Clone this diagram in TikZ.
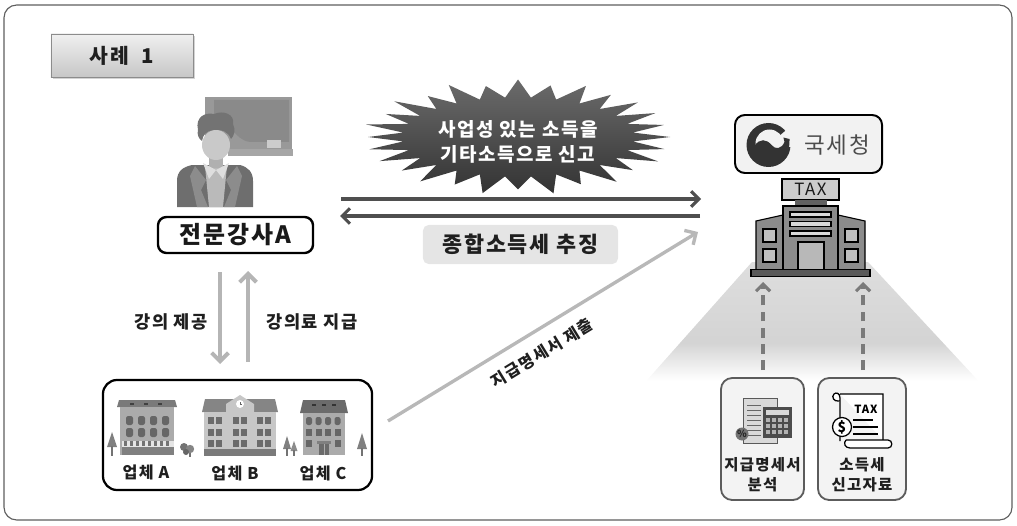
\documentclass[tikz,border=0pt]{standalone}
\usepackage{fontspec}
\setmainfont{Noto Sans CJK KR}[LetterSpace=8]
\usetikzlibrary{arrows.meta,shadows}

\definecolor{frameC}{HTML}{5E5E5E}
\definecolor{darkArrow}{HTML}{4F4F4F}
\definecolor{lightArrow}{HTML}{B5B5B5}
\definecolor{dashC}{HTML}{7A7A7A}
\definecolor{cardLine}{HTML}{5C5C5C}
\definecolor{cardFill}{HTML}{F3F3F3}
\definecolor{logoDark}{HTML}{333333}

% spotlight under the tax office: white at the bottom, light grey above
\pgfdeclareverticalshading{spot}{100bp}{color(0bp)=(white); color(28bp)=(white); color(43bp)=(black!17); color(75bp)=(black!13); color(100bp)=(black!13)}

\begin{document}
\begin{tikzpicture}[x=0.025cm,y=-0.025cm,
  kbold/.style={font=\bfseries\fontsize{#1}{#1}\selectfont},
  txt/.style={inner sep=0pt, text=black!88},
  heavy/.style={draw=darkArrow, line width=2.2pt, -{Straight Barb[length=5.5pt,width=11pt]}},
  pale/.style={draw=lightArrow, line width=2.8pt, -{Straight Barb[length=6pt,width=12pt]}},
  dashup/.style={draw=dashC, line width=2.2pt, dash pattern=on 7pt off 4.5pt, -{Straight Barb[length=5pt,width=10pt]}},
  card/.style={draw=cardLine, line width=1.3pt, fill=cardFill, rounded corners=8pt, minimum width=#1, minimum height=3.05cm, inner sep=0pt},
  win/.style={fill=black!60},
]
\useasboundingbox (0,0) rectangle (1017,525);

% outer frame
\draw[frameC, line width=0.8pt, rounded corners=9pt] (4,5) rectangle (1012,520);

% ---------------- title tab ----------------
\node[draw=black!45, line width=0.6pt, top color=black!6, bottom color=black!22,
      drop shadow={shadow xshift=1.2pt, shadow yshift=-1.2pt, opacity=0.35},
      minimum width=3.55cm, minimum height=1.075cm, inner sep=0pt,
      kbold=14.5, text=black!88] (title) at (122,55.5) {사례\ \ 1};

% ---------------- lecturer icon ----------------
\node[minimum width=2.9cm, minimum height=2.8cm, inner sep=0pt] (teacher) at (235,152) {};
\fill[black!40] (205,97) rectangle (292,150);
\fill[black!46] (214,100) -- (214,118) .. controls (230,120) and (234,140) .. (250,142) -- (289,142) -- (289,100) -- cycle;
\fill[black!35] (228,149) rectangle (293,156);
\fill[black!20] (267,140) rectangle (281,148);
% body and jacket
\fill[black!57] (177,207) -- (177,181) .. controls (177,171) and (183,167) .. (192,165) -- (240,165) .. controls (248,167) and (253,172) .. (253,181) -- (253,207) -- cycle;
\fill[black!45] (195,166) -- (206,180) -- (201,190) -- (208,207) -- (197,207) -- (190,176) -- cycle;
\fill[black!45] (237,166) -- (226,180) -- (231,190) -- (224,207) -- (235,207) -- (242,176) -- cycle;
\fill[black!27] (205,166) -- (227,166) -- (223,207) -- (209,207) -- cycle;
\fill[black!31] (209,152) rectangle (223,168);
\fill[black!13] (203,163) -- (216,170) -- (209,179) -- cycle;
\fill[black!13] (229,163) -- (216,170) -- (223,179) -- cycle;
% head and hair
\fill[black!21] (216,145) ellipse [x radius=14, y radius=15];
\fill[black!55] (198,130) .. controls (195,117) and (205,112) .. (214,114) .. controls (223,110) and (235,114) .. (233,124) .. controls (236,130) and (234,136) .. (231,139) .. controls (228,131) and (221,129) .. (213,130) .. controls (206,131) and (203,135) .. (202,141) .. controls (198,138) and (197,134) .. (198,130) -- cycle;

% lecturer name box
\node[draw=black, line width=1.7pt, fill=white, rounded corners=6pt,
      minimum width=3.875cm, minimum height=0.9cm, inner sep=0pt, kbold=17, text=black!90]
      (lecturer) at (235.5,235) {전문강사A};

% ---------------- starburst ----------------
\shade[top color=black!58, bottom color=black!80]
  plot[samples at={0,...,55}]
  ({518+ifthenelse(mod(\x,2)==0,1+0.05*sin(97*\x),0.76)*152*cos(6.4286*\x)},
   {137+ifthenelse(mod(\x,2)==0,1+0.05*sin(97*\x),0.72)*55*sin(6.4286*\x)}) -- cycle;
\node[align=center, text=white, kbold=13.5, inner sep=0pt] (burst) at (518,142)
  {사업성 있는 소득을\\[4pt]기타소득으로 신고};

% ---------------- report / collection arrows ----------------
\coordinate (repS) at (341,199);
\coordinate (repE) at (701,199);
\coordinate (colS) at (700,216);
\coordinate (colE) at (340,216);
\draw[heavy] (repS) -- (repE);
\draw[heavy] (colS) -- (colE);

\node[fill=black!10, rounded corners=4pt, minimum width=4.875cm, minimum height=0.975cm,
      inner sep=0pt, kbold=15.5, text=black!88] (chase) at (520.5,244.5) {종합소득세 추징};

% ---------------- lecturer <-> firms ----------------
\coordinate (lecD1) at (220,272);
\coordinate (lecD2) at (220,364);
\coordinate (payU1) at (248,362);
\coordinate (payU2) at (248,271);
\draw[pale] (lecD1) -- (lecD2);
\draw[pale] (payU1) -- (payU2);
\node[txt, kbold=12.5] (lecLbl) at (171,322) {강의 제공};
\node[txt, kbold=12.5] (payLbl) at (312,322) {강의료 지급};

% ---------------- firms ----------------
\node[draw=black, line width=1.6pt, rounded corners=10pt, minimum width=6.725cm,
      minimum height=2.75cm, inner sep=0pt] (firms) at (237.5,435) {};

% building A
\fill[black!52] (117,407) -- (119,400) -- (175,400) -- (177,407) -- cycle;
\foreach \vx in {132,146,160} \fill[black!75] (\vx-2,403) rectangle (\vx+2,404.5);
\fill[black!33] (120,407) rectangle (174,455);
\foreach \wx in {126,138,150,162} {
  \fill[win, rounded corners=1.6pt] (\wx,425) -- (\wx,416) -- (\wx+7,416) -- (\wx+7,425) -- cycle;
  \fill[win, rounded corners=1.6pt] (\wx,437) -- (\wx,428) -- (\wx+7,428) -- (\wx+7,437) -- cycle;
}
\fill[black!10] (122,441) rectangle (174,447);
\foreach \sx in {124,130,...,170} \fill[black!55] (\sx,441) rectangle (\sx+2.5,446);
\fill[black!50] (122,447) rectangle (174,455);
% tree left of A
\fill[black!50] (112,432) -- (117,447) -- (107,447) -- cycle;
\fill[black!55] (111,446) rectangle (113,456);
% bush between A and B
\fill[black!55] (189,453) rectangle (190.5,457);
\fill[black!55] (184,447) circle (4);
\fill[black!48] (190,449) circle (4.2);
\fill[black!60] (186,452) circle (3);

% building B
\fill[black!48] (202,412) -- (205,399) -- (275,399) -- (278,412) -- cycle;
\fill[black!22] (226,413) -- (226,404) -- (240,395) -- (254,404) -- (254,413) -- cycle;
\fill[white] (240,404) circle (4);
\draw[black!60, line width=0.4pt] (240,404) -- (240,401.5) (240,404) -- (242,404);
\fill[black!22] (204,412) rectangle (276,456);
\foreach \wx in {208,216,233,241,257,265} {
  \foreach \wy in {417,428.5,440} \fill[black!58] (\wx,\wy) rectangle (\wx+6,\wy+7);
}
\fill[black!52] (204,449) rectangle (276,456);

% trees between B and C
\fill[black!50] (287,436) -- (291,449) -- (283,449) -- cycle;
\fill[black!55] (286.3,448) rectangle (287.7,456);
\fill[black!45] (294,441) -- (297.5,451) -- (290.5,451) -- cycle;
\fill[black!55] (293.3,450) rectangle (294.7,456);

% building C
\fill[black!58] (300,413) -- (303,400) -- (345,400) -- (348,413) -- cycle;
\foreach \vx in {314,324,334} \fill[black!80] (\vx-2,404) rectangle (\vx+2,405.5);
\fill[black!33] (303,413) rectangle (345,455);
\foreach \wx in {306,315.5,325,334.5} {
  \fill[win, rounded corners=1.6pt] (\wx,425) -- (\wx,417) -- (\wx+6,417) -- (\wx+6,425) -- cycle;
  \fill[win] (\wx,429) rectangle (\wx+6,436);
}
\foreach \wx in {306,334.5} \fill[win] (\wx,440) rectangle (\wx+6,447);
\fill[black!50] (317,441) rectangle (331,444);
\fill[black!58] (319,444) rectangle (329,455);
\fill[black!33] (323.5,444) rectangle (324.5,455);
% tree right of C
\fill[black!50] (362,433) -- (367,449) -- (357,449) -- cycle;
\fill[black!55] (361,448) rectangle (363,456);

\node[txt, kbold=11.5] (firmA) at (146,472) {업체 A};
\node[txt, kbold=11.5] (firmB) at (235,473) {업체 B};
\node[txt, kbold=11.5] (firmC) at (323,473) {업체 C};

% statement submission arrow
\coordinate (subS) at (388,421);
\coordinate (subE) at (698,232);
\draw[pale, draw=black!28, line width=2.4pt] (subS) -- (subE)
  node[pos=0.46, sloped, below=9pt, kbold=11.5, text=black!88, inner sep=0pt] (subLbl) {지급명세서 제출};

% ---------------- tax office ----------------
\shade[shading=spot] (752,262) -- (868,262) -- (985,388) -- (640,388) -- cycle;

\node[draw=black, line width=1.4pt, fill=black!5, rounded corners=7pt,
      minimum width=3.675cm, minimum height=1.45cm, inner sep=0pt] (nts) at (808.5,144) {};
\node[txt, text=black!70, font=\fontsize{16}{16}\selectfont, anchor=west] (ntsName) at (804,145) {국세청};
% emblem
\begin{scope}[shift={(768.5,145)}]
  \fill[logoDark] (0,0) circle (22);
  \fill[black!5] (0,0) -- (-40:24) arc[start angle=-40, end angle=5, radius=24] -- cycle;
  \fill[black!5] (1,-1.5) circle (14);
  \fill[logoDark] (-14,1) .. controls (-9,-7) and (-2,-6) .. (3,0) .. controls (7,5) and (13,4) .. (16,-3)
     arc[start angle=-8, end angle=-20, radius=22] -- (21,-6) .. controls (22,8) and (14,18) .. (2,17)
     .. controls (-8,16) and (-14,9) .. (-14,1) -- cycle;
\end{scope}

% tax office building
\node[draw=black, line width=0.9pt, fill=black!20, minimum width=1.425cm, minimum height=0.525cm,
      inner sep=0pt, font=\fontsize{12}{12}\selectfont, text=black!90] (taxsign) at (810.5,189.5) {TAX};
\fill[black!62] (795,200) rectangle (827,206);
\draw[black, line width=0.8pt, fill=black!45] (756,221) -- (783,215) -- (783,270) -- (756,270) -- cycle;
\draw[black, line width=0.8pt, fill=black!45] (865,221) -- (838,215) -- (838,270) -- (865,270) -- cycle;
\draw[black, line width=0.8pt, fill=black!45] (783,206) rectangle (838,270);
\foreach \by in {212,221.5,231} \draw[black, line width=0.8pt, fill=black!15] (790,\by) rectangle (831,\by+5);
\draw[black, line width=0.8pt, fill=black!28] (798,242) rectangle (824,270);
\foreach \wy in {229,249} {
  \draw[black, line width=0.8pt, fill=black!25] (763,\wy) rectangle (776,\wy+13);
  \draw[black, line width=0.8pt, fill=black!25] (845,\wy) rectangle (858,\wy+13);
}
\node[draw=black, line width=0.8pt, fill=black!65, minimum width=2.975cm, minimum height=0.18cm,
      inner sep=0pt] (taxoffice) at (810.5,273) {};

% ---------------- evidence cards ----------------
\node[card=2.075cm] (card1) at (762.5,439) {};
\node[card=2.2cm] (card2) at (862,439) {};

\coordinate (d1S) at (763,370);
\coordinate (d1E) at (763,282);
\coordinate (d2S) at (863,370);
\coordinate (d2E) at (863,282);
\draw[dashup] (d1S) -- (d1E);
\draw[dashup] (d2S) -- (d2E);

% card 1: statement sheet with calculator
\draw[black!65, line width=0.6pt, fill=black!15] (743,398) rectangle (777,443);
\foreach \ly in {405,410,...,435} \draw[black!60, line width=0.6pt] (747,\ly) -- (761,\ly);
\fill[black!70] (763,407) rectangle (792,438);
\fill[black!15] (766,410) rectangle (789,415);
\foreach \cx in {766,772,778,784} \foreach \cy in {418,424,430} \fill[black!30] (\cx,\cy) rectangle (\cx+4,\cy+4);
\fill[black!55] (742,434) circle (6.5);
\node[inner sep=0pt, text=black!85, font=\bfseries\fontsize{7}{7}\selectfont] (pct) at (742,434) {\%};

% card 2: tax scroll
\draw[black, line width=0.9pt, fill=white]
  (840,398) -- (840,441) (840,398) .. controls (840,393) and (836,392) .. (834,394)
  .. controls (831,397) and (834,402) .. (839,401) (840,394) -- (883,394) -- (883,440);
\draw[black, line width=0.9pt, fill=white]
  (846,440) -- (888,440) .. controls (893,440) and (893,448) .. (888,448) -- (850,448)
  .. controls (845,448) and (843,443) .. (846,440);
\node[inner sep=0pt, font=\bfseries\fontsize{8}{8}\selectfont] (scrollTax) at (866,409) {TAX};
\draw[black, line width=0.9pt, fill=white] (842,427) circle (9.5);
\node[inner sep=0pt, font=\bfseries\fontsize{10}{10}\selectfont] (dollar) at (842,427.5) {\$};
\foreach \ly/\lx in {420/873,427/878,434/878} \draw[black, line width=0.9pt] (853,\ly) -- (\lx,\ly);

\node[align=center, kbold=11, text=black!88, inner sep=0pt] (card1Lbl) at (762.5,474.5) {지급명세서\\[3pt]분석};
\node[align=center, kbold=11, text=black!88, inner sep=0pt] (card2Lbl) at (862,474.5) {소득세\\[3pt]신고자료};

\end{tikzpicture}
\end{document}
